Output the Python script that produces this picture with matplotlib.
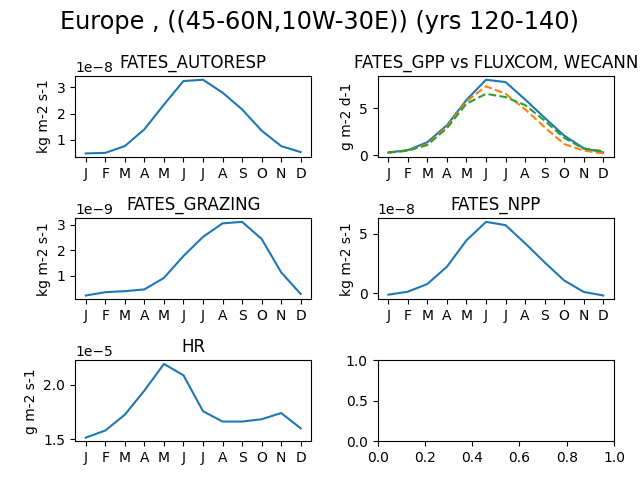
import numpy as np
import matplotlib
matplotlib.use('Agg')
import matplotlib.pyplot as plt

months = ['J', 'F', 'M', 'A', 'M', 'J', 'J', 'A', 'S', 'O', 'N', 'D']

# kg m-2 s-1
autoresp = [0.48e-8, 0.50e-8, 0.76e-8, 1.40e-8, 2.34e-8, 3.24e-8,
            3.29e-8, 2.80e-8, 2.16e-8, 1.35e-8, 0.76e-8, 0.53e-8]
# g m-2 d-1
gpp_fates = [0.3, 0.55, 1.4, 3.2, 5.9, 8.05, 7.8, 5.95, 4.0, 2.1, 0.75, 0.3]
gpp_fluxcom = [0.25, 0.5, 1.2, 3.05, 5.75, 7.35, 6.55, 4.9, 3.0, 1.2, 0.5, 0.2]
gpp_wecann = [0.3, 0.5, 1.1, 2.9, 5.5, 6.55, 6.2, 5.35, 3.7, 1.85, 0.7, 0.45]
# kg m-2 s-1
grazing = [0.23e-9, 0.36e-9, 0.40e-9, 0.47e-9, 0.92e-9, 1.78e-9,
           2.53e-9, 3.06e-9, 3.12e-9, 2.45e-9, 1.14e-9, 0.29e-9]
npp = [-0.11e-8, 0.14e-8, 0.79e-8, 2.24e-8, 4.45e-8, 6.0e-8,
       5.72e-8, 4.2e-8, 2.6e-8, 1.08e-8, 0.12e-8, -0.18e-8]
# g m-2 s-1
hr = [1.515e-5, 1.58e-5, 1.725e-5, 1.946e-5, 2.19e-5, 2.086e-5,
      1.757e-5, 1.662e-5, 1.662e-5, 1.683e-5, 1.74e-5, 1.6e-5]

x = np.arange(12)

fig, axes = plt.subplots(3, 2, figsize=(6.4, 4.8))
fig.suptitle('Europe , ((45-60N,10W-30E)) (yrs 120-140)', fontsize='xx-large')

ax = axes[0, 0]
ax.plot(x, autoresp)
ax.set_title('FATES_AUTORESP')
ax.set_ylabel('kg m-2 s-1')

ax = axes[0, 1]
ax.plot(x, gpp_fates)
ax.plot(x, gpp_fluxcom, '--')
ax.plot(x, gpp_wecann, '--')
ax.set_title('FATES_GPP vs FLUXCOM, WECANN')
ax.set_ylabel('g m-2 d-1')

ax = axes[1, 0]
ax.plot(x, grazing)
ax.set_title('FATES_GRAZING')
ax.set_ylabel('kg m-2 s-1')

ax = axes[1, 1]
ax.plot(x, npp)
ax.set_title('FATES_NPP')
ax.set_ylabel('kg m-2 s-1')

ax = axes[2, 0]
ax.plot(x, hr)
ax.set_title('HR')
ax.set_ylabel('g m-2 s-1')

for ax in [axes[0, 0], axes[0, 1], axes[1, 0], axes[1, 1], axes[2, 0]]:
    ax.set_xticks(x)
    ax.set_xticklabels(months)

plt.tight_layout()
plt.savefig('out.png', dpi=100)
